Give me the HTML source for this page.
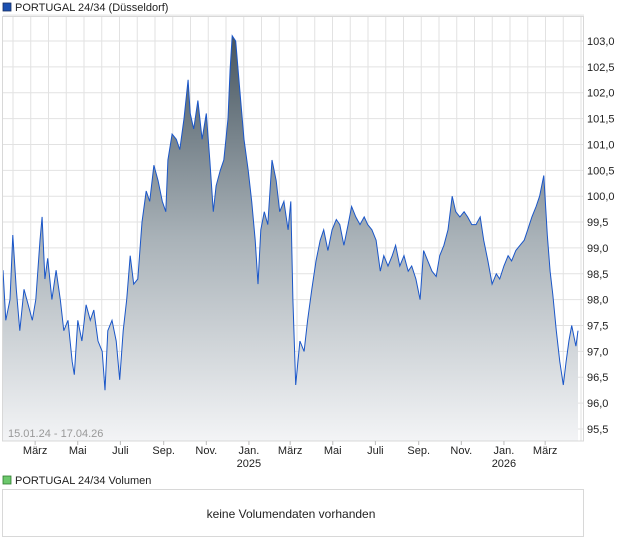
<!DOCTYPE html>
<html><head><meta charset="utf-8"><style>
body{margin:0;background:#fff;font-family:"Liberation Sans",sans-serif;}
svg{display:block}
</style></head><body>
<svg width="620" height="546" xmlns="http://www.w3.org/2000/svg">
<defs><linearGradient id="g" gradientUnits="userSpaceOnUse" x1="0" y1="35" x2="0" y2="441">
<stop offset="0" stop-color="#46555f"/><stop offset="0.5" stop-color="#a9b2b8"/><stop offset="1" stop-color="#f3f4f6"/></linearGradient></defs>
<rect x="3" y="3" width="8" height="8" fill="#1a4fb0" stroke="#1a2f60" stroke-width="0.8"/>
<text x="15" y="11" font-size="11" fill="#222">PORTUGAL 24/34 (Düsseldorf)</text>
<g id="grid"></g>
<path id="area" fill="url(#g)"/>
<path id="line" fill="none" stroke="#1a56c8" stroke-width="1"/>
<rect x="2.5" y="16.5" width="581" height="424.5" fill="none" stroke="#d8d8d8"/>
<g id="yaxis" font-size="11" fill="#222"></g>
<g id="xaxis" font-size="11" fill="#222" text-anchor="middle"></g>
<text x="8" y="437" font-size="11" fill="#999">15.01.24 - 17.04.26</text>
<rect x="3" y="476" width="8" height="8" fill="#6cc86c" stroke="#2f7a2f" stroke-width="0.8"/>
<text x="15" y="484" font-size="11" fill="#222">PORTUGAL 24/34 Volumen</text>
<rect x="2.5" y="489.5" width="581" height="47" fill="#fff" stroke="#d8d8d8"/>
<text x="291" y="518" font-size="12" fill="#222" text-anchor="middle">keine Volumendaten vorhanden</text>
</svg>
<script>
const values=[98.57,97.6,98.0,99.25,98.2,97.4,98.2,97.9,97.6,98.0,99.15,99.6,98.4,98.8,98.0,98.57,98.0,97.4,97.6,96.8,96.55,97.6,97.2,97.9,97.6,97.8,97.2,97.0,96.25,97.4,97.6,97.2,96.45,97.4,98.0,98.85,98.3,98.4,99.5,100.1,99.9,100.6,100.3,99.9,99.7,100.7,101.2,101.1,100.9,101.5,102.25,101.6,101.3,101.85,101.1,101.6,100.7,99.7,100.2,100.5,100.7,101.5,102.45,103.1,103.0,102.05,101.1,100.5,99.9,99.15,98.3,99.35,99.7,99.45,100.7,100.3,99.7,99.9,99.35,99.9,98.0,96.35,97.2,97.0,97.6,98.2,98.75,99.15,99.35,98.95,99.35,99.55,99.45,99.05,99.45,99.8,99.6,99.45,99.6,99.45,99.35,99.15,98.55,98.85,98.65,98.85,99.05,98.65,98.85,98.55,98.65,98.4,98.0,98.95,98.75,98.55,98.45,98.85,99.05,99.35,100.0,99.7,99.6,99.7,99.6,99.45,99.45,99.6,99.15,98.75,98.3,98.5,98.4,98.65,98.85,98.75,98.95,99.05,99.15,99.35,99.6,99.8,100.0,100.4,99.25,98.55,98.1,97.4,96.8,96.35,96.8,97.2,97.5,97.1,97.4];
const dayOffsets=[0,4,10,14,19,24,30,36,42,47,53,56,60,64,70,76,82,87,93,99,102,107,113,119,125,130,136,142,146,150,156,162,167,172,177,182,187,193,199,205,210,216,222,228,233,236,242,248,253,259,265,268,273,279,285,291,296,301,305,311,316,322,325,328,333,339,345,351,356,361,365,369,374,379,385,391,396,402,408,412,415,419,
425,431,436,442,448,454,459,465,471,477,482,488,494,499,505,511,517,522,528,534,540,545,551,557,562,568,574,580,585,591,597,602,608,614,620,625,631,637,643,648,654,660,665,671,677,683,688,694,700,706,711,717,723,728,734,740,746,751,757,763,768,774,
779,783,787,792,797,802,806,810,814,820,823];
const yTicks=[95.5,96.0,96.5,97.0,97.5,98.0,98.5,99.0,99.5,100.0,100.5,101.0,101.5,102.0,102.5,103.0];
const monthLabels=["März","Mai","Juli","Sep.","Nov.","Jan.","März","Mai","Juli","Sep.","Nov.","Jan.","März"];
const monthDates=["2024-03-01","2024-05-01","2024-07-01","2024-09-01","2024-11-01","2025-01-01","2025-03-01","2025-05-01","2025-07-01","2025-09-01","2025-11-01","2026-01-01","2026-03-01"];
const yearLabels={"2025-01-01":"2025","2026-01-01":"2026"};
const start=new Date("2024-01-15"),end=new Date("2026-04-17");
const X0=3,X1=578,BOT=441;
const TOTAL=(end-start)/86400000;
const xDay=n=>X0+n/TOTAL*(X1-X0);
const xDate=d=>xDay((new Date(d)-start)/86400000);
const y=v=>41+(103-v)*51.73;
const NS="http://www.w3.org/2000/svg";
const mk=(t,a,p)=>{const e=document.createElementNS(NS,t);for(const k in a)e.setAttribute(k,a[k]);p.appendChild(e);return e;};
const grid=document.getElementById('grid');
for(let gx=13;gx<584;gx+=17.75){const l=mk('line',{x1:gx,x2:gx,y1:17,y2:441,stroke:'#e2e2e2'},grid);

}
const ya=document.getElementById('yaxis');
yTicks.concat([103.5]).forEach(v=>{const l=mk('line',{x1:3,x2:584,y1:y(v),y2:y(v),stroke:'#e2e2e2'},grid);

});
yTicks.forEach(v=>{const t=mk('text',{x:587,y:y(v)+4},ya);t.textContent=v.toFixed(1).replace('.',',');

});
const xa=document.getElementById('xaxis');
monthDates.forEach((d,i)=>{const x=xDate(d);
const tk=mk('line',{x1:x,x2:x,y1:441,y2:445,stroke:'#bbb'},xa);


const t=mk('text',{x:x,y:454},xa);t.textContent=monthLabels[i];


if(yearLabels[d]){const yt=mk('text',{x:x,y:467},xa);yt.textContent=yearLabels[d];

}});
let d='';values.forEach((v,i)=>{const n=dayOffsets[i]!==undefined?dayOffsets[i]:i*TOTAL/(values.length-1);d+=(i?'L':'M')+xDay(n).toFixed(1)+','+y(v).toFixed(1);});
document.getElementById('line').setAttribute('d',d);
document.getElementById('area').setAttribute('d',d+'L'+X1+','+BOT+'L'+X0+','+BOT+'Z');
</script>
</body></html>
